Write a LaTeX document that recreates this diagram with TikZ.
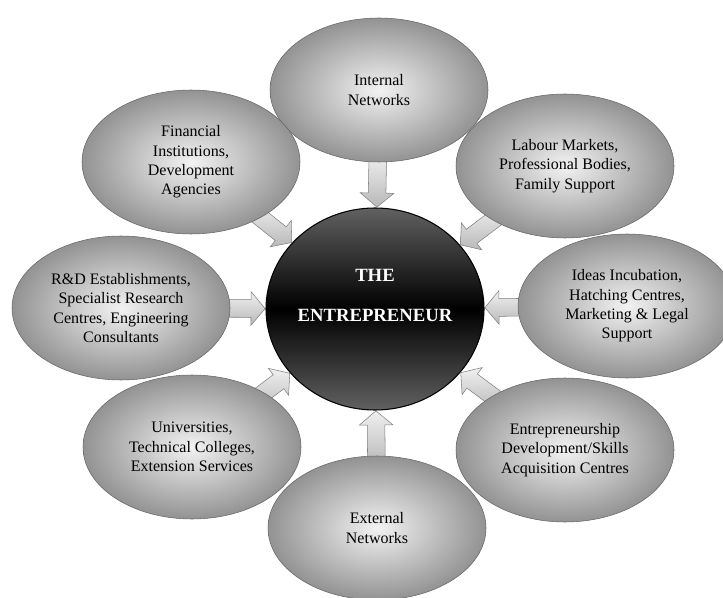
\documentclass[tikz,border=0pt]{standalone}
\usepackage{fontspec}
\setmainfont{Liberation Serif}
\usetikzlibrary{shapes.geometric,shapes.arrows,backgrounds}

\begin{document}
\begin{tikzpicture}[x=0.75pt,y=-0.75pt,
    support/.style={ellipse, draw=gray!80!black, thin, inner color=gray!10, outer color=gray!85,
        minimum width=163.5pt, minimum height=108pt, inner sep=0pt, align=center,
        font=\fontsize{12}{14.5}\selectfont},
    core/.style={ellipse, draw=black, thick, top color=black!62, bottom color=black!62,
        middle color=black, minimum width=163.5pt, minimum height=151.5pt},
    feed/.style={single arrow, draw=gray, top color=gray!12, bottom color=gray!55,
        minimum height=40pt, inner xsep=0pt, inner ysep=6.4pt, single arrow head extend=6pt,
        single arrow tip angle=100, sloped, allow upside down, pos=1, anchor=tip}]
    \useasboundingbox (0,0) rectangle (723,598);

    % Centre
    \node[core] (ent) at (375,309) {};
    \node[text=white, align=center, font=\bfseries\fontsize{14}{30}\selectfont]
        (entlabel) at ([yshift=10.5pt]ent.center) {THE\\ENTREPRENEUR};

    % Support bodies
    \node[support] (internal) at (379,90) {Internal\\Networks};
    \node[support] (labour) at (565,166) {Labour Markets,\\Professional Bodies,\\Family Support};
    \node[support] (ideas) at (627,306) {Ideas Incubation,\\Hatching Centres,\\Marketing \& Legal\\Support};
    \node[support] (skills) at (565,450) {Entrepreneurship\\Development/Skills\\Acquisition Centres};
    \node[support] (external) at (377,528) {External\\Networks};
    \node[support] (univ) at (192,447) {Universities,\\Technical Colleges,\\Extension Services};
    \node[support] (rnd) at (121,308) {R\&D Establishments,\\Specialist Research\\Centres, Engineering\\Consultants};
    \node[support] (finance) at (191,162) {Financial\\Institutions,\\Development\\Agencies};

    % Arrows into the centre
    \begin{scope}[on background layer]
        \foreach \src in {internal,labour,ideas,skills,external,univ,rnd,finance}
            \path (\src) -- (ent) node[feed] {};
    \end{scope}
\end{tikzpicture}
\end{document}
